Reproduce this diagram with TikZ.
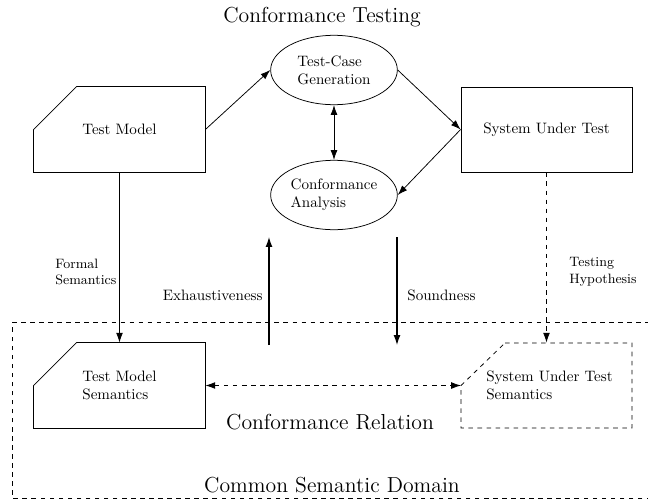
\documentclass[tikz,border=0pt]{standalone}
\usepackage{tikz}
\usetikzlibrary{shapes,arrows,arrows.meta,positioning,calc}

\begin{document}
\begin{tikzpicture}[
                x=0.663pt,y=-0.663pt,>={Latex[length=6.5pt,width=4.5pt]},line width=0.5pt,
                model/.style={rectangle,minimum width=113.4pt,minimum height=56.4pt,inner sep=0pt,align=left},
                sysbox/.style={draw,rectangle,minimum width=113.4pt,minimum height=56.4pt,align=left},
                oval/.style={draw,ellipse,inner sep=0pt,minimum width=84pt,minimum height=46pt,align=left},
                title/.style={font=\Large},
                note/.style={font=\small,align=left}
            ]
                \useasboundingbox (0,0) rectangle (648,500);
                % common semantic domain
                \draw[dashed] (12,322) -- (660,322) -- (660,498) -- (12,498) -- cycle;
                \node[title] (ttest) at (322,17) {Conformance Testing};
                \node[title] (trel) at (330,422) {Conformance Relation};
                \node[title] (tdom) at (332,485) {Common Semantic Domain};

                \node[model] (tm) at (119.5,129.5) {Test Model};
                \node[sysbox] (sut) at (546.5,129.5) {System Under Test};
                \node[oval] (tcg) at (334,70) {Test-Case\\Generation};
                \node[oval] (ca) at (334,195) {Conformance\\Analysis};
                \node[model] (tms) at (119.5,385.5) {Test Model\\Semantics};
                \node[model] (suts) at (549.5,385.5) {System Under Test\\Semantics};
                \coordinate (sutscorner) at (461,385.5);

                % chamfered outlines
                \draw ($(tm.north west)+(43,0)$) -- (tm.north east) -- (tm.south east) -- (tm.south west) -- ($(tm.north west)+(0,43)$) -- cycle;
                \draw ($(tms.north west)+(43,0)$) -- (tms.north east) -- (tms.south east) -- (tms.south west) -- ($(tms.north west)+(0,43)$) -- cycle;
                \draw[dashed] (505,343) -- (632,343) -- (632,428) -- (461,428) -- (sutscorner) -- cycle;

                \draw[->] (tm.east) -- (tcg.west);
                \draw[->] (tcg.east) -- (sut.west);
                \draw[->] (sut.west) -- (ca.east);
                \draw[<->] (tcg.south) -- (ca.north);
                \draw[->] (tm.south) -- (tms.north);
                \draw[->,dashed] (sut.south) -- (sut.south |- suts.north);
                \draw[<->,dashed] (tms.east) -- (sutscorner);

                \node[note,anchor=west] (fsem) at (50,272) {Formal\\Semantics};
                \node[note,anchor=west] (thyp) at (564,272) {Testing\\Hypothesis};

                \coordinate (exlo) at (269,345);
                \coordinate (exhi) at (269,237);
                \coordinate (sdhi) at (397,237);
                \coordinate (sdlo) at (397,345);
                \draw[->,thick] (exlo) -- (exhi);
                \draw[->,thick] (sdhi) -- (sdlo);
                \node[anchor=east] (exh) at (268,295) {Exhaustiveness};
                \node[anchor=west] (snd) at (402,295) {Soundness};
            \end{tikzpicture}
\end{document}
